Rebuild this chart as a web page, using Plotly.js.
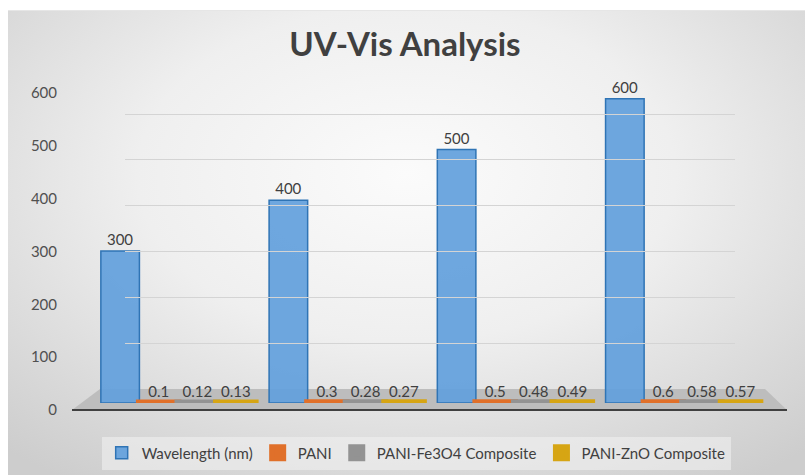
<!DOCTYPE html>
<html>
<head>
<meta charset="utf-8">
<script src="https://cdn.plot.ly/plotly-3.0.1.min.js"></script>
<style>
  html, body { margin: 0; padding: 0; background: #ffffff; }
  #wrap { position: relative; width: 805px; height: 475px; overflow: hidden; }
  #bg { position: absolute; left: 8px; top: 10px; width: 797px; height: 465px;
        background: radial-gradient(ellipse 75% 80% at 50% 35%, #fbfbfb 0%, #efefef 45%, #d9d9d9 80%, #cdcdcd 100%);
        border-top: 1px solid #e6e6e6; }
  #chart { position: absolute; left: 0; top: 0; width: 805px; height: 475px; }
</style>
</head>
<body>
<div id="wrap"><div id="bg"></div><div id="chart"></div></div>
<script>
// ---- data ----
const categories = ['1', '2', '3', '4'];
const seriesNames = ['Wavelength (nm)', 'PANI', 'PANI-Fe3O4 Composite', 'PANI-ZnO Composite'];
const wavelength = [300, 400, 500, 600];
const pani = [0.1, 0.3, 0.5, 0.6];
const paniFe3O4 = [0.12, 0.28, 0.48, 0.58];
const paniZnO = [0.13, 0.27, 0.49, 0.57];
const yTicks = [0, 100, 200, 300, 400, 500, 600];

// ---- styling ----
const W = 805, H = 475;
const fx = px => px / W;
const fy = py => (H - py) / H;
const fillColors = ['rgba(98,160,220,0.92)', '#e0702a', '#939393', '#d6a514'];
const lineColors = ['#2f74b5', '#e0702a', '#939393', '#d6a514'];
const lineWidths = [1.5, 7, 7, 7];
const txt = '#404040';
const font = 'Lato, "Open Sans", "Liberation Sans", sans-serif';

const allSeries = [wavelength, pani, paniFe3O4, paniZnO];
const traces = allSeries.map((vals, i) => ({
  type: 'bar',
  name: seriesNames[i],
  x: categories,
  y: vals,
  xaxis: 'x', yaxis: 'y',
  text: vals.map(v => String(v)),
  textposition: 'outside',
  cliponaxis: false,
  textfont: { family: font, size: 15, color: txt },
  marker: { color: fillColors[i], line: { color: lineColors[i], width: lineWidths[i] } },
  hoverinfo: 'skip'
}));
// empty traces so the tick-label axis and back-wall gridline axis get drawn
traces.push({ type: 'scatter', x: [], y: [], xaxis: 'x3', yaxis: 'y2', showlegend: false, hoverinfo: 'skip' });
traces.push({ type: 'scatter', x: [], y: [], xaxis: 'x2', yaxis: 'y3', showlegend: false, hoverinfo: 'skip' });

const yMax = 700;
const hiddenX = (dom, anchor) => ({
  domain: dom, range: [0, 1], anchor: anchor,
  showticklabels: false, showgrid: false, zeroline: false, showline: false, ticks: ''
});
const layout = {
  width: W, height: H,
  margin: { l: 0, r: 0, t: 0, b: 0 },
  paper_bgcolor: 'rgba(0,0,0,0)',
  plot_bgcolor: 'rgba(0,0,0,0)',
  font: { family: font, color: txt },
  showlegend: true,
  hovermode: false,
  title: {
    text: '<b>UV-Vis Analysis</b>',
    font: { family: font, size: 33, color: txt },
    x: 0.503, xanchor: 'center', y: fy(44), yanchor: 'middle'
  },
  barmode: 'group',
  bargap: 0.083,
  bargroupgap: 0,
  xaxis: {
    type: 'category', domain: [fx(72), fx(787)], range: [-0.63, 3.62],
    showticklabels: false, showgrid: false, zeroline: false, showline: false, ticks: '',
    anchor: 'y'
  },
  // bars axis
  yaxis: {
    domain: [fy(403), fy(403 - yMax * 0.507)], range: [0, yMax],
    showgrid: false, zeroline: false, showticklabels: false, ticks: '', anchor: 'x'
  },
  // tick labels axis (front)
  xaxis3: hiddenX([fx(72), fx(787)], 'y2'),
  yaxis2: {
    side: 'left', anchor: 'x3',
    domain: [fy(410), fy(410 - yMax * 0.5283)],
    range: [0, yMax],
    tickvals: yTicks, ticktext: yTicks.map(String),
    showgrid: false, zeroline: true, zerolinecolor: '#404040', zerolinewidth: 2.5,
    ticks: 'outside', ticklen: 11, tickcolor: 'rgba(0,0,0,0)',
    tickfont: { family: font, size: 15, color: '#505050' }
  },
  // back wall gridlines
  xaxis2: hiddenX([fx(125), fx(735)], 'y3'),
  yaxis3: {
    domain: [fy(389), fy(389 - yMax * 0.4583)], range: [0, yMax], anchor: 'x2',
    tickvals: yTicks.slice(1), showticklabels: false, ticks: '',
    showgrid: true, gridcolor: '#d4d4d4', gridwidth: 1, zeroline: false
  },
  legend: {
    orientation: 'h', x: 0.517, xanchor: 'center', y: fy(453), yanchor: 'middle',
    font: { family: font, size: 15, color: txt },
    bgcolor: 'rgba(240,240,240,0.6)',
    traceorder: 'normal'
  },
  shapes: [
    {
      type: 'path', xref: 'paper', yref: 'paper', layer: 'below',
      path: 'M ' + fx(72) + ',' + fy(410) + ' L ' + fx(100) + ',' + fy(389) +
            ' L ' + fx(765) + ',' + fy(389) + ' L ' + fx(787) + ',' + fy(410) + ' Z',
      fillcolor: '#bdbdbd', line: { width: 0 }
    }
  ]
};

Plotly.newPlot('chart', traces, layout, { displayModeBar: false, staticPlot: true });
</script>
</body>
</html>
